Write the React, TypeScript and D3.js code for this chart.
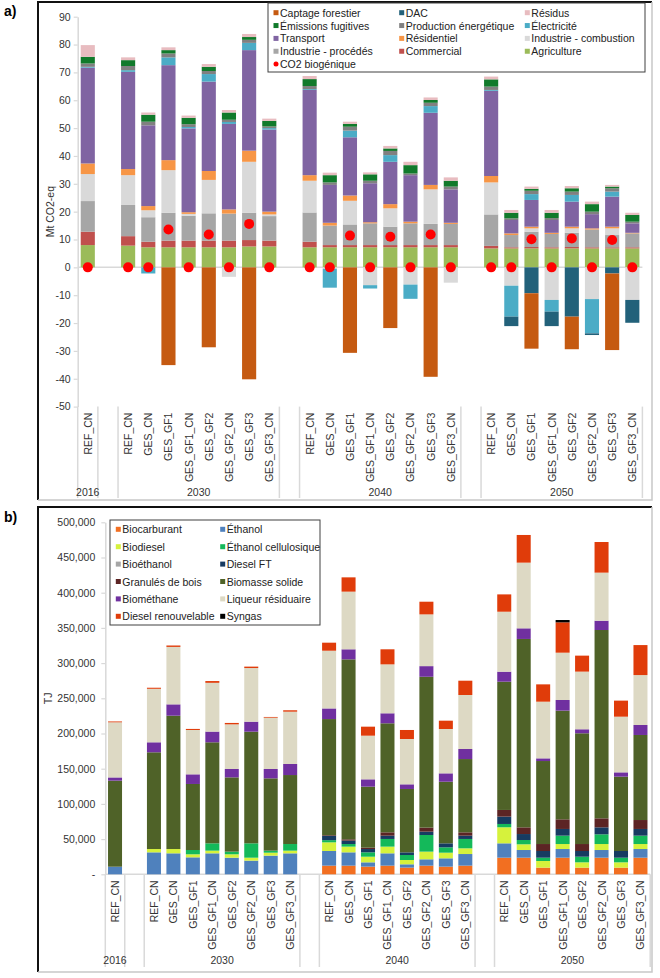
import { useEffect, useRef } from "react";
import * as d3 from "d3";

// categories: one REF bar for 2016, then the 8 scenarios for 2030 / 2040 / 2050
const SCENARIOS = ["REF_CN", "GES_CN", "GES_GF1", "GES_GF1_CN", "GES_GF2", "GES_GF2_CN", "GES_GF3", "GES_GF3_CN"];
const GROUPS: Array<{ year: string; cats: string[] }> = [
  { year: "2016", cats: ["REF_CN"] },
  { year: "2030", cats: SCENARIOS },
  { year: "2040", cats: SCENARIOS },
  { year: "2050", cats: SCENARIOS },
];

// ---- panel a) Mt CO2-eq (values per bar, same order as GROUPS) ----
const AGRICULTURE = [8.0, 7.8, 7.2, 7.2, 7.2, 7.2, 7.2, 7.5, 7.5, 7.2, 7.2, 7.2, 7.2, 7.2, 7.2, 7.2, 7.2, 6.8, 6.8, 6.8, 6.8, 6.8, 6.8, 6.8, 6.8];
const COMMERCIAL = [4.8, 3.4, 2.0, 2.4, 2.4, 2.4, 2.4, 2.3, 2.1, 2.0, 0.8, 0.8, 0.8, 0.8, 0.8, 0.8, 0.8, 0.9, 0.4, 0.5, 0.4, 0.5, 0.4, 0.4, 0.4];
const IND_PROCEDES = [11.0, 11.2, 8.8, 10.0, 8.9, 9.8, 9.7, 9.8, 8.8, 10.5, 7.0, 7.4, 7.8, 6.6, 7.8, 7.6, 7.6, 11.3, 4.4, 5.5, 4.8, 5.1, 6.4, 4.4, 5.0];
const IND_COMBUSTION = [9.7, 10.7, 2.5, 15.3, 0.7, 12.0, -3.4, 18.3, 0.6, 11.4, -0.5, 8.5, -6.4, 6.6, -6.2, 12.4, -5.5, 11.5, -6.6, 1.2, -11.7, 1.6, -11.4, 2.4, -11.7];
const RESIDENTIEL = [3.8, 2.2, 1.5, 3.6, 0.6, 3.2, 1.5, 4.0, 1.0, 2.0, 1.0, 1.9, 0.4, 1.5, 0.6, 1.6, 0.4, 2.3, 0.6, 0.6, 0.4, 0.6, 0.4, 0.6, 0.2];
const TRANSPORT = [34.4, 34.9, 29.0, 34.1, 30.1, 32.1, 30.7, 36.1, 29.5, 30.6, 13.6, 20.9, 14.0, 15.2, 16.7, 25.9, 12.0, 30.6, 4.8, 9.6, 4.6, 9.0, 5.1, 10.8, 3.4];
const ELECTRICITE = [0.3, 0.6, -2.2, 2.8, 0.5, 2.7, 0.7, 2.6, 0.5, 0.3, -6.8, 2.4, -1.2, 2.4, -5.1, 2.4, 0, 0.3, -11.1, 2.1, -4.2, 2.4, -12.3, 1.8, 0];
const PROD_ENERGETIQUE = [1.2, 1.5, 1.3, 1.4, 1.0, 1.1, 0.8, 1.1, 0.6, 1.1, 0.9, 1.4, 0.9, 1.5, 0.6, 1.2, 1.0, 1.2, 0.6, 1.2, 0.7, 1.2, 0.9, 1.2, 0.6];
const EMISSIONS_FUGITIVES = [2.4, 2.1, 2.5, 1.2, 2.3, 1.5, 2.6, 1.0, 2.0, 2.5, 2.6, 1.0, 2.3, 0.9, 3.0, 1.0, 2.1, 2.6, 2.0, 0.7, 1.9, 1.2, 2.7, 0.6, 2.4];
const RESIDUS = [4.2, 1.0, 0.8, 1.0, 0.8, 1.0, 0.9, 1.1, 0.8, 1.1, 0.9, 0.8, 0.7, 0.9, 1.2, 0.9, 1.2, 1.0, 1.0, 0.8, 1.0, 0.8, 0.9, 0.6, 0.8];
const DAC = [0, 0, 0, 0, 0, 0, 0, 0, 0, 0, 0, 0, 0, 0, 0, 0, 0, 0, -3.4, -9.3, -5.2, -17.7, -0.6, -2.2, -8.2];
const CAPTAGE_FORESTIER = [0, 0, 0, -35.1, 0, -28.7, 0, -40.2, 0, 0, 0, -30.7, 0, -21.8, 0, -39.3, 0, 0, 0, -19.9, 0, -11.7, 0, -27.5, 0];
const CO2_BIOGENIQUE = [0, 0, 0, 13.6, 0, 11.8, 0, 15.6, 0, 0, 0, 11.4, 0, 11.0, 0, 11.8, 0, 0, 0, 10.1, 0, 10.4, 0, 9.8, 0];
const TICKS_A = d3.range(-50, 91, 10);

// ---- panel b) TJ ----
const BIOCARBURANT = [0, 0, 0, 0, 0, 0, 0, 0, 0, 12300, 12300, 10900, 12300, 9500, 12300, 10900, 12300, 23600, 23600, 9500, 23600, 9500, 23600, 9500, 23600];
const ETHANOL = [10800, 31200, 29800, 24100, 29800, 23600, 19400, 26500, 29800, 20800, 18900, 6100, 17500, 4700, 9000, 11800, 16500, 20400, 10900, 0, 12300, 0, 10900, 0, 12300];
const BIODIESEL = [0, 4700, 6100, 4300, 3800, 4800, 4200, 4200, 3800, 12300, 8100, 8000, 9500, 6100, 10900, 8000, 8100, 22800, 8100, 9400, 7100, 7500, 8500, 7500, 7100];
const ETHANOL_CELL = [0, 0, 0, 6100, 10400, 3800, 20400, 2900, 9400, 3100, 3700, 6200, 10900, 7100, 23600, 7600, 13300, 4700, 6100, 4700, 11900, 8000, 13800, 6600, 11900];
const BIOETHANOL = [0, 0, 0, 0, 0, 0, 0, 0, 0, 0, 0, 0, 0, 0, 0, 0, 0, 0, 0, 0, 0, 0, 0, 0, 0];
const DIESEL_FT = [0, 0, 0, 0, 0, 0, 0, 0, 0, 6000, 4800, 4700, 4700, 3800, 4800, 5700, 4700, 10400, 8500, 9500, 9500, 8100, 9900, 9500, 9500];
const GRANULES = [0, 0, 0, 0, 0, 0, 0, 0, 0, 1000, 1900, 1900, 4700, 0, 5700, 0, 4700, 9500, 9500, 9900, 13700, 9900, 12800, 0, 12700];
const BIOMASSE_SOLIDE = [122200, 137400, 189400, 93800, 143500, 105500, 158600, 102700, 98000, 165000, 255600, 86700, 154900, 90000, 214300, 87500, 104100, 182200, 267600, 117900, 154400, 157300, 267500, 105600, 120800];
const BIOMETHANE = [4600, 14200, 16100, 13700, 15200, 11900, 14200, 13300, 15700, 15100, 14300, 10400, 14200, 6600, 15100, 11900, 14300, 14200, 15100, 3800, 15100, 5700, 13200, 6100, 14200];
const LIQUEUR = [78300, 76000, 81600, 63000, 69300, 63400, 76200, 72900, 74300, 82000, 81900, 62000, 69500, 64400, 73500, 63000, 76700, 85200, 93300, 80500, 67200, 81900, 68300, 79100, 70900];
const DIESEL_RENOUV = [1200, 1500, 2000, 1500, 2500, 2000, 2000, 1000, 2000, 11400, 20300, 12800, 21400, 12800, 18000, 11800, 20300, 24600, 39300, 24600, 43100, 22700, 43500, 22800, 42600];
const SYNGAS = [0, 0, 0, 0, 0, 0, 0, 0, 0, 0, 0, 0, 0, 0, 0, 0, 0, 0, 0, 0, 3300, 0, 0, 0, 0];
const TICKS_B = d3.range(0, 500001, 50000);

type Series = { name: string; color: string; values: number[] };

// stacking order, bottom first
const SERIES_A: Series[] = [
  { name: "Agriculture", color: "#9bbb59", values: AGRICULTURE },
  { name: "Commercial", color: "#c0504d", values: COMMERCIAL },
  { name: "Industrie - procédés", color: "#a6a6a6", values: IND_PROCEDES },
  { name: "Industrie - combustion", color: "#d9d9d9", values: IND_COMBUSTION },
  { name: "Résidentiel", color: "#f79646", values: RESIDENTIEL },
  { name: "Transport", color: "#8064a2", values: TRANSPORT },
  { name: "Électricité", color: "#4bacc6", values: ELECTRICITE },
  { name: "Production énergétique", color: "#808080", values: PROD_ENERGETIQUE },
  { name: "Émissions fugitives", color: "#117a2b", values: EMISSIONS_FUGITIVES },
  { name: "Résidus", color: "#e8bcc0", values: RESIDUS },
  { name: "DAC", color: "#22617a", values: DAC },
  { name: "Captage forestier", color: "#c55a11", values: CAPTAGE_FORESTIER },
];

const SERIES_B: Series[] = [
  { name: "Biocarburant", color: "#f26f21", values: BIOCARBURANT },
  { name: "Éthanol", color: "#4f81bd", values: ETHANOL },
  { name: "Biodiesel", color: "#d6f23c", values: BIODIESEL },
  { name: "Éthanol cellulosique", color: "#14b95a", values: ETHANOL_CELL },
  { name: "Bioéthanol", color: "#a6a6a6", values: BIOETHANOL },
  { name: "Diesel FT", color: "#173b61", values: DIESEL_FT },
  { name: "Granulés de bois", color: "#5c2424", values: GRANULES },
  { name: "Biomasse solide", color: "#4f6228", values: BIOMASSE_SOLIDE },
  { name: "Biométhane", color: "#7030a0", values: BIOMETHANE },
  { name: "Liqueur résiduaire", color: "#ddd9c4", values: LIQUEUR },
  { name: "Diesel renouvelable", color: "#e03c0a", values: DIESEL_RENOUV },
  { name: "Syngas", color: "#000000", values: SYNGAS },
];

const FONT = "'Liberation Sans', Arial, sans-serif";
const TEXT = "#333333";
const GRID = "#d9d9d9";

// bar keys, plus one empty slot between year groups (like the Excel source)
const BAR_KEYS = GROUPS.flatMap((g) => g.cats.map((c) => `${g.year}|${c}`));
const SLOT_KEYS: string[] = [];
GROUPS.forEach((g, gi) => {
  g.cats.forEach((c) => SLOT_KEYS.push(`${g.year}|${c}`));
  if (gi < GROUPS.length - 1) SLOT_KEYS.push(`gap${gi}`);
});

type Panel = {
  series: Series[];
  xRange: [number, number];
  pad: number;
  yDomain: [number, number];
  yRange: [number, number];
  ticks: number[];
  tickFormat: (v: number) => string;
  tickSize: number;
  tickPad: number;
  title: string;
  titleX: number;
  sepBottom: number;
  yearY: number;
  zeroLine: boolean;
  dots?: number[];
};

function drawPanel(svg: d3.Selection<SVGSVGElement, unknown, null, undefined>, p: Panel) {
  const x = d3
    .scaleBand<string>()
    .domain(SLOT_KEYS)
    .range(p.xRange)
    .paddingInner(p.pad)
    .paddingOuter(p.pad / 2);
  const y = d3.scaleLinear().domain(p.yDomain).range(p.yRange);
  const g = svg.append("g");
  const halfGap = (x.step() - x.bandwidth()) / 2;

  // y axis
  const axis = g
    .append("g")
    .attr("transform", `translate(${p.xRange[0]},0)`)
    .call(
      d3.axisLeft(y).tickValues(p.ticks).tickFormat((v) => p.tickFormat(v as number)).tickSize(p.tickSize).tickSizeOuter(0).tickPadding(p.tickPad)
    );
  axis.select(".domain").attr("stroke", GRID).attr("stroke-width", 1.5);
  axis.selectAll(".tick line").attr("stroke", GRID).attr("stroke-width", 1.2);
  axis.selectAll("text").attr("fill", TEXT).style("font-family", FONT).style("font-size", "10.5px");

  g.append("text")
    .attr("transform", `translate(${p.titleX},${(p.yRange[0] + p.yRange[1]) / 2}) rotate(-90)`)
    .attr("text-anchor", "middle")
    .attr("dominant-baseline", "central")
    .attr("fill", TEXT)
    .style("font-family", FONT)
    .style("font-size", "10.5px")
    .text(p.title);

  // horizontal base line at 0
  g.append("line")
    .attr("x1", p.xRange[0])
    .attr("x2", p.xRange[1])
    .attr("y1", y(0))
    .attr("y2", y(0))
    .attr("stroke", GRID)
    .attr("stroke-width", 1.5);
  if (!p.zeroLine) {
    // nothing more, zero is the bottom of the plot here
  }

  // stacked bars, negatives stack downward
  const rows = BAR_KEYS.map((key, i) => {
    const r: Record<string, number | string> = { key };
    p.series.forEach((s) => (r[s.name] = s.values[i]));
    return r;
  });
  const layers = d3
    .stack<Record<string, number | string>>()
    .keys(p.series.map((s) => s.name))
    .value((d, k) => d[k] as number)
    .offset(d3.stackOffsetDiverging)(rows);

  layers.forEach((layer, li) => {
    g.append("g")
      .attr("fill", p.series[li].color)
      .selectAll("rect")
      .data(layer.filter((d) => d[1] !== d[0]))
      .join("rect")
      .attr("x", (d) => x(d.data.key as string)!)
      .attr("width", x.bandwidth())
      .attr("y", (d) => y(Math.max(d[0], d[1])))
      .attr("height", (d) => Math.abs(y(d[0]) - y(d[1])));
  });

  if (p.dots) {
    g.append("g")
      .selectAll("circle")
      .data(p.dots)
      .join("circle")
      .attr("cx", (_, i) => x(BAR_KEYS[i])! + x.bandwidth() / 2)
      .attr("cy", (d) => y(d))
      .attr("r", 5)
      .attr("fill", "#ff0000");
  }

  // category labels
  const plotBottom = p.yRange[0];
  g.append("g")
    .selectAll("text")
    .data(BAR_KEYS)
    .join("text")
    .attr("transform", (k) => `translate(${x(k)! + x.bandwidth() / 2},${plotBottom + 6}) rotate(-90)`)
    .attr("text-anchor", "end")
    .attr("dominant-baseline", "central")
    .attr("fill", TEXT)
    .style("font-family", FONT)
    .style("font-size", "10.5px")
    .text((k) => k.split("|")[1]);

  // group separators and year labels
  GROUPS.forEach((grp) => {
    const first = `${grp.year}|${grp.cats[0]}`;
    const last = `${grp.year}|${grp.cats[grp.cats.length - 1]}`;
    const x0 = x(first)! - halfGap;
    const x1 = x(last)! + x.bandwidth() + halfGap;
    [x0, x1].forEach((xx) => {
      g.append("line")
        .attr("x1", xx)
        .attr("x2", xx)
        .attr("y1", plotBottom)
        .attr("y2", p.sepBottom)
        .attr("stroke", GRID)
        .attr("stroke-width", 1.5);
    });
    g.append("text")
      .attr("x", (x0 + x1) / 2)
      .attr("y", p.yearY)
      .attr("text-anchor", "middle")
      .attr("dominant-baseline", "central")
      .attr("fill", TEXT)
      .style("font-family", FONT)
      .style("font-size", "10.5px")
      .text(grp.year);
  });
}

function drawLegend(
  svg: d3.Selection<SVGSVGElement, unknown, null, undefined>,
  items: Array<{ name: string; color: string; dot?: boolean }>,
  box: { x: number; y: number; w: number; h: number },
  cols: number[],
  row0: number,
  rowStep: number
) {
  const g = svg.append("g");
  g.append("rect")
    .attr("x", box.x)
    .attr("y", box.y)
    .attr("width", box.w)
    .attr("height", box.h)
    .attr("fill", "#fff")
    .attr("stroke", "#404040")
    .attr("stroke-width", 1);
  items.forEach((it, i) => {
    const cx = cols[i % cols.length];
    const cy = row0 + Math.floor(i / cols.length) * rowStep;
    if (it.dot) {
      g.append("circle").attr("cx", cx).attr("cy", cy).attr("r", 2.5).attr("fill", it.color);
    } else {
      g.append("rect").attr("x", cx - 2.5).attr("y", cy - 2.5).attr("width", 5).attr("height", 5).attr("fill", it.color);
    }
    g.append("text")
      .attr("x", cx + 4)
      .attr("y", cy)
      .attr("dominant-baseline", "central")
      .attr("fill", "#222")
      .style("font-family", FONT)
      .style("font-size", "10.5px")
      .text(it.name);
  });
}

function renderChart(el: SVGSVGElement | null) {
  if (!el) return;
  d3.select(el).selectAll("*").remove();
  const svg = d3.select(el).attr("width", 660).attr("height", 978);

  // panel frames: dark top/left, light right/bottom
  const frame = (y0: number, y1: number) => {
    svg.append("path").attr("d", `M38,${y1} L38,${y0} L652,${y0}`).attr("fill", "none").attr("stroke", "#111").attr("stroke-width", 2);
    svg.append("path").attr("d", `M652,${y0} L652,${y1} L38,${y1}`).attr("fill", "none").attr("stroke", "#c8c8c8").attr("stroke-width", 1.5);
  };
  frame(2, 500);
  frame(507, 972);

  svg.append("text").attr("x", 4).attr("y", 16).style("font-family", FONT).style("font-size", "14px").style("font-weight", "bold").text("a)");
  svg.append("text").attr("x", 4).attr("y", 522).style("font-family", FONT).style("font-size", "14px").style("font-weight", "bold").text("b)");

  drawPanel(svg, {
    series: SERIES_A,
    xRange: [77.7, 642.4],
    pad: 0.3,
    yDomain: [-50, 90],
    yRange: [406.6, 16.7],
    ticks: TICKS_A,
    tickFormat: (v) => String(v),
    tickSize: 4,
    tickPad: 3,
    title: "Mt CO2-eq",
    titleX: 50,
    sepBottom: 498,
    yearY: 492,
    zeroLine: true,
    dots: CO2_BIOGENIQUE,
  });

  drawPanel(svg, {
    series: SERIES_B,
    xRange: [105.3, 650.2],
    pad: 0.28,
    yDomain: [0, 500000],
    yRange: [874.3, 522.3],
    ticks: TICKS_B,
    tickFormat: (v) => (v === 0 ? "-" : d3.format(",")(v)),
    tickSize: 4,
    tickPad: 6,
    title: "TJ",
    titleX: 48,
    sepBottom: 967,
    yearY: 960,
    zeroLine: false,
  });

  const legendA = [...SERIES_A].reverse().map((s) => ({ name: s.name, color: s.color } as { name: string; color: string; dot?: boolean }));
  legendA.push({ name: "CO2 biogénique", color: "#ff0000", dot: true });
  drawLegend(svg, legendA, { x: 268, y: 3, w: 377, h: 69 }, [276, 401.7, 527.3], 12.7, 12.85);

  drawLegend(
    svg,
    SERIES_B.map((s) => ({ name: s.name, color: s.color })),
    { x: 110, y: 520, w: 210, h: 105 },
    [118.3, 222.7],
    529.3,
    17.4
  );
}

export default function App() {
  const svgRef = useRef<SVGSVGElement>(null);

  useEffect(() => {
    renderChart(svgRef.current);
  }, []);

  return (
    <div style={{ position: "absolute", left: 0, top: 0, width: 660, height: 978, background: "#fff" }}>
      <svg ref={svgRef} style={{ display: "block" }} />
    </div>
  );
}
